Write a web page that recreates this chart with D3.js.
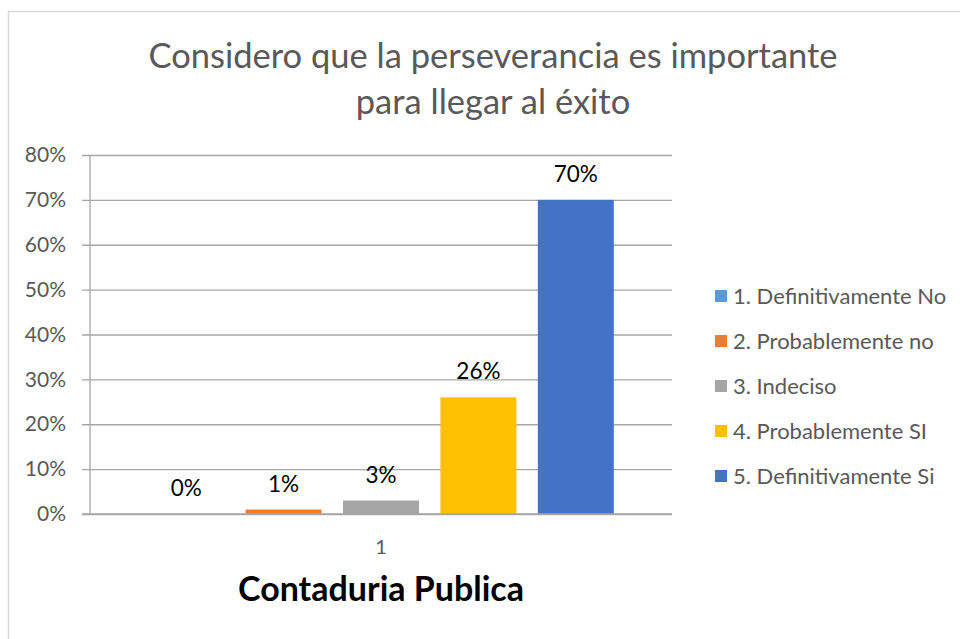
<!DOCTYPE html>
<html>
<head>
<meta charset="utf-8">
<script src="https://cdn.jsdelivr.net/npm/d3@7"></script>
<style>
  body { margin: 0; background: #fff; }
  svg text { font-family: Lato, "Open Sans", sans-serif; }
</style>
</head>
<body>
<div id="chart"></div>
<script>
var categories = ["1"];
var seriesNames = ["1. Definitivamente No", "2. Probablemente no", "3. Indeciso", "4. Probablemente SI", "5. Definitivamente Si"];
var seriesValues = [0, 0.01, 0.03, 0.26, 0.70];
var seriesColors = ["#5B9BD5", "#ED7D31", "#A5A5A5", "#FFC000", "#4472C4"];
var yTicks = [0, 0.1, 0.2, 0.3, 0.4, 0.5, 0.6, 0.7, 0.8];
var titleLines = ["Considero que la perseverancia es importante", "para llegar al éxito"];
var axisTitle = "Contaduria Publica";

var width = 960, height = 639;
var plot = {left: 90, right: 672, top: 155, bottom: 514};

var svg = d3.select("#chart").append("svg")
  .attr("width", width)
  .attr("height", height);

// chart frame
svg.append("rect")
  .attr("x", 8.5).attr("y", 11.5)
  .attr("width", 960).attr("height", 640)
  .attr("fill", "#fff")
  .attr("stroke", "#d9d9d9")
  .attr("stroke-width", 1.5);

// title
svg.append("g").selectAll("text")
  .data(titleLines)
  .enter().append("text")
  .attr("x", 493)
  .attr("y", function(d, i) { return 68 + i * 46; })
  .attr("text-anchor", "middle")
  .attr("font-size", 34.5)
  .attr("fill", "#595959")
  .text(function(d) { return d; });

var y = d3.scaleLinear().domain([0, 0.8]).range([plot.bottom, plot.top]);

var x0 = d3.scaleBand()
  .domain(categories)
  .range([plot.left, plot.right])
  .paddingInner(0)
  .paddingOuter(0.125);

var x1 = d3.scaleBand()
  .domain(seriesNames)
  .range([0, x0.bandwidth()])
  .paddingInner(0.22);

// gridlines + y axis
var yAxis = d3.axisLeft(y)
  .tickValues(yTicks)
  .tickSize(plot.right - plot.left + 8)
  .tickPadding(16)
  .tickFormat(d3.format(".0%"));

var gy = svg.append("g")
  .attr("transform", "translate(" + plot.right + ",0)")
  .call(yAxis);
gy.select(".domain").remove();
gy.selectAll("line").attr("stroke", "#a6a6a6").attr("stroke-width", 1.3);
gy.selectAll("text")
  .attr("font-size", 21)
  .attr("fill", "#595959")
  .attr("font-family", "Lato, 'Open Sans', sans-serif");

// vertical axis line
svg.append("line")
  .attr("x1", plot.left).attr("x2", plot.left)
  .attr("y1", plot.top).attr("y2", plot.bottom)
  .attr("stroke", "#a6a6a6").attr("stroke-width", 1.3);

// bars
var groups = svg.append("g").selectAll("g")
  .data(categories)
  .enter().append("g")
  .attr("transform", function(d) { return "translate(" + x0(d) + ",0)"; });

groups.selectAll("rect")
  .data(seriesNames.map(function(s, i) { return {name: s, value: seriesValues[i], color: seriesColors[i]}; }))
  .enter().append("rect")
  .attr("x", function(d) { return x1(d.name); })
  .attr("y", function(d) { return y(d.value); })
  .attr("width", x1.bandwidth())
  .attr("height", function(d) { return y(0) - y(d.value); })
  .attr("fill", function(d) { return d.color; });

groups.selectAll("text")
  .data(seriesNames.map(function(s, i) { return {name: s, value: seriesValues[i]}; }))
  .enter().append("text")
  .attr("x", function(d) { return x1(d.name) + x1.bandwidth() / 2; })
  .attr("y", function(d) { return y(d.value) - 18; })
  .attr("text-anchor", "middle")
  .attr("font-size", 22.5)
  .attr("fill", "#000")
  .text(function(d) { return d3.format(".0%")(d.value); });

// x axis baseline
svg.append("line")
  .attr("x1", plot.left - 8).attr("x2", plot.right)
  .attr("y1", plot.bottom).attr("y2", plot.bottom)
  .attr("stroke", "#a6a6a6").attr("stroke-width", 1.3);

// category label
svg.append("g").selectAll("text")
  .data(categories)
  .enter().append("text")
  .attr("x", function(d) { return x0(d) + x0.bandwidth() / 2; })
  .attr("y", 554)
  .attr("text-anchor", "middle")
  .attr("font-size", 20)
  .attr("fill", "#595959")
  .text(function(d) { return d; });

// axis title
svg.append("text")
  .attr("x", 381)
  .attr("y", 601)
  .attr("text-anchor", "middle")
  .attr("font-size", 34)
  .attr("font-weight", "bold")
  .attr("fill", "#000")
  .text(axisTitle);

// legend
var legend = svg.append("g").selectAll("g")
  .data(seriesNames)
  .enter().append("g")
  .attr("transform", function(d, i) { return "translate(715," + (296 + i * 45) + ")"; });

legend.append("rect")
  .attr("x", 0).attr("y", -6)
  .attr("width", 12).attr("height", 12)
  .attr("fill", function(d, i) { return seriesColors[i]; });

legend.append("text")
  .attr("x", 18)
  .attr("y", 8)
  .attr("font-size", 22)
  .attr("fill", "#595959")
  .text(function(d) { return d; });
</script>
</body>
</html>
